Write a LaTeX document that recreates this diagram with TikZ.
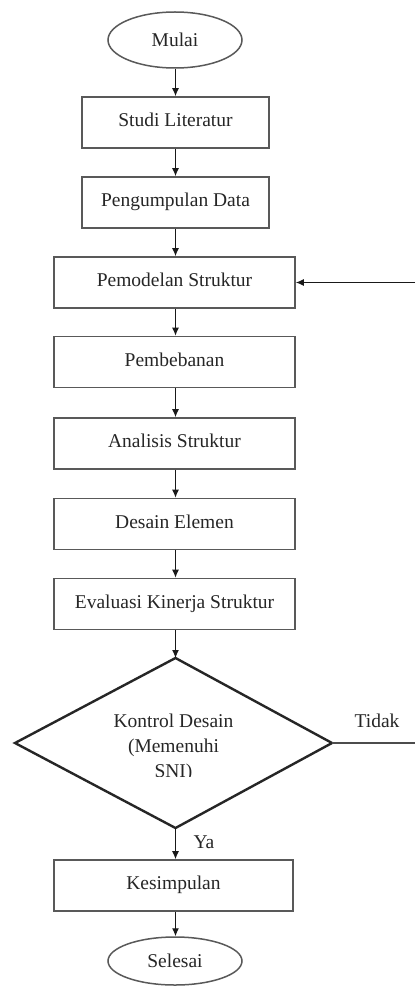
\documentclass[tikz,border=0pt]{standalone}
\usepackage{fontspec}
\setmainfont{Liberation Serif}
\usetikzlibrary{arrows.meta,shapes.geometric}
\begin{document}
\begin{tikzpicture}[x=1pt,y=-1pt,
  every node/.style={font=\fontsize{19.5}{25}\selectfont, text=black!85},
  procbox/.style={draw=black!65, line width=1.7pt, rectangle, minimum height=51pt, inner sep=0pt},
  narrowbox/.style={procbox, minimum width=187pt},
  widebox/.style={procbox, minimum width=241pt},
  termnode/.style={draw=black!65, line width=1.5pt, ellipse, inner sep=0pt},
  flow/.style={draw=black!90, line width=1.1pt, -{Latex[length=8pt,width=7pt]}},
  plain/.style={draw=black!70, line width=1.1pt},
  decision/.style={draw=black!85, line width=2.4pt, line join=miter}]
\useasboundingbox (0,0) rectangle (415,995);
\fill[white] (0,0) rectangle (415,995);
\coordinate (axis) at (175.5,0);

\node[termnode, minimum width=134pt, minimum height=56pt] (mulai) at (175,40) {Mulai};
\node[narrowbox] (studi) at (175.5,122.5) {\raisebox{5pt}{Studi Literatur}};
\node[narrowbox] (data) at (175.5,202.5) {\raisebox{5pt}{Pengumpulan Data}};
\node[widebox] (model) at (174.5,282.5) {\raisebox{5pt}{Pemodelan Struktur}};
\node[widebox] (beban) at (174.5,362) {\raisebox{5pt}{Pembebanan}};
\node[widebox] (analisis) at (174.5,443.5) {\raisebox{5pt}{Analisis Struktur}};
\node[widebox] (desain) at (174.5,524) {\raisebox{5pt}{Desain Elemen}};
\node[widebox] (evaluasi) at (174.5,604) {\raisebox{5pt}{Evaluasi Kinerja Struktur}};

\coordinate (dT) at (175.5,658);
\coordinate (dR) at (332,743);
\coordinate (dB) at (175.5,828);
\coordinate (dL) at (15,743);
\draw[decision] (dT) -- (dR) -- (dB) -- (dL) -- cycle;
\begin{scope}
  \clip (0,690) rectangle (330,776);
  \node[align=center] (dtext) at (173.5,748) {Kontrol Desain\\(Memenuhi\\SNI)};
\end{scope}

\node[widebox, minimum width=239pt] (simpul) at (173.5,885.5) {\raisebox{5pt}{Kesimpulan}};
\node[termnode, minimum width=134pt, minimum height=48pt] (selesai) at (175,961) {Selesai};

\draw[flow] (mulai.south -| axis) -- (studi.north -| axis);
\draw[flow] (studi.south -| axis) -- (data.north -| axis);
\draw[flow] (data.south -| axis) -- (model.north -| axis);
\draw[flow] (model.south -| axis) -- (beban.north -| axis);
\draw[flow] (beban.south -| axis) -- (analisis.north -| axis);
\draw[flow] (analisis.south -| axis) -- (desain.north -| axis);
\draw[flow] (desain.south -| axis) -- (evaluasi.north -| axis);
\draw[flow] (evaluasi.south -| axis) -- (dT);
\draw[flow] (dB) -- (simpul.north -| axis);
\draw[flow] (simpul.south -| axis) -- (selesai.north -| axis);

\node (ya) at (204,842) {Ya};
\coordinate (tidakEnd) at (415,743);
\draw[plain] (dR) -- (tidakEnd);
\node (tidak) at (377,721) {Tidak};
\coordinate (backStart) at (415,282.5);
\draw[flow] (backStart) -- (model.east);
\end{tikzpicture}
\end{document}
